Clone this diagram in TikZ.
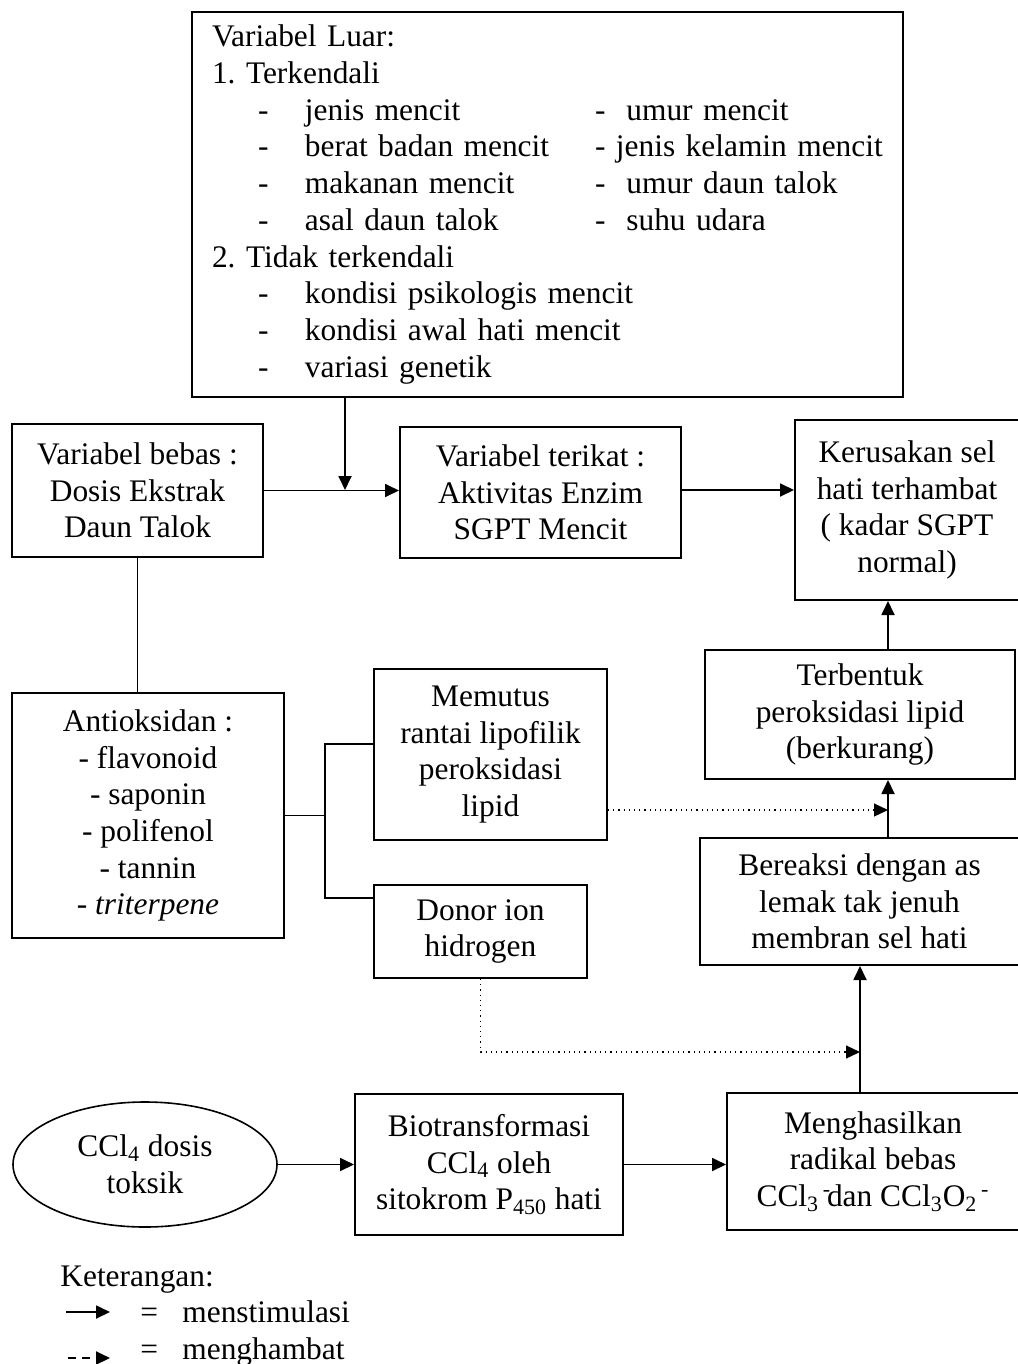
\documentclass[tikz,border=0pt]{standalone}
\usepackage{fontspec}
\setmainfont{Liberation Serif}
\usetikzlibrary{arrows.meta,positioning,shapes.geometric,calc}
\frenchspacing

% one row of the outside-variable list
\newcommand{\luarrow}[2]{\makebox[46.5pt][l]{\hspace{23pt}-}\makebox[145pt][l]{#1}#2}

\begin{document}
\begin{tikzpicture}[
  x=0.5pt, y=-0.5pt,
  font=\fontsize{15.7}{18.35}\selectfont,
  box/.style={
    draw,
    line width=1pt,
    align=center,
    inner sep=0pt
  },
  oval/.style={
    draw,
    ellipse,
    line width=0.8pt,
    align=center,
    inner sep=0pt
  },
  stimarrow/.style={
    -{Triangle[length=7pt,width=6.5pt]},
    line width=0.9pt
  },
  inhibarrow/.style={
    -{Triangle[length=7pt,width=6.5pt]},
    line width=0.6pt,
    dotted
  },
  plainline/.style={
    line width=0.8pt
  },
  legtext/.style={
    anchor=base west,
    inner sep=0pt
  }
]
\useasboundingbox (0,0) rectangle (1017,1364);

% Outside variables
\node[box, minimum width=355.5pt, minimum height=192.5pt,
      text width=335.5pt, align=left] (luar) at (547.5,204.5) {
  Variabel Luar:\\
  1. Terkendali\\
  \luarrow{jenis mencit}{-\ \ umur mencit}\\
  \luarrow{berat badan mencit}{- jenis kelamin mencit}\\
  \luarrow{makanan mencit}{-\ \ umur daun talok}\\
  \luarrow{asal daun talok}{-\ \ suhu udara}\\
  2. Tidak terkendali\\
  \luarrow{kondisi psikologis mencit}{}\\
  \luarrow{kondisi awal hati mencit}{}\\
  \luarrow{variasi genetik}{}
};

% Main row
\node[box, minimum width=125.5pt, minimum height=66.5pt] (bebas) at (137.5,490.5) {
  Variabel bebas :\\ Dosis Ekstrak\\ Daun Talok};
\node[box, minimum width=140.5pt, minimum height=65.5pt] (terikat) at (540.5,492.5) {
  Variabel terikat :\\ Aktivitas Enzim\\ SGPT Mencit};
\node[box, minimum width=112pt, minimum height=90pt] (rusak) at (907,510) {
  Kerusakan sel\\ hati terhambat\\ ( kadar SGPT\\ normal)};

% Antioxidant side
\node[box, minimum width=136pt, minimum height=122.5pt] (antioks) at (148,815.5) {
  Antioksidan :\\ - flavonoid\\ - saponin\\ - polifenol\\ - tannin\\ - \textit{triterpene}};
\node[box, minimum width=116.5pt, minimum height=85.5pt] (memutus) at (490.5,754.5) {
  Memutus\\ rantai lipofilik\\ peroksidasi\\ lipid};
\node[box, minimum width=106.5pt, minimum height=46.5pt] (donor) at (480.5,931.5) {
  Donor ion\\ hidrogen};

% Damage chain
\node[box, minimum width=155pt, minimum height=64.5pt] (terbentuk) at (860,714.5) {
  Terbentuk\\ peroksidasi lipid\\ (berkurang)};
\node[box, minimum width=159.5pt, minimum height=63.5pt] (bereaksi) at (859.5,901.5) {
  Bereaksi dengan as\\ lemak tak jenuh\\ membran sel hati};
\node[oval, minimum width=132pt, minimum height=62.5pt] (toksik) at (145,1164.5) {
  CCl\textsubscript{4} dosis\\ toksik};
\node[box, minimum width=134pt, minimum height=70.5pt] (biotrans) at (489,1164.5) {
  Biotransformasi\\ CCl\textsubscript{4} oleh\\ sitokrom P\textsubscript{450} hati};
\node[box, minimum width=146pt, minimum height=68.5pt] (radikal) at (873,1161.5) {
  Menghasilkan\\ radikal bebas\\
  CCl\textsubscript{3}\rlap{\textsuperscript{\,-}} dan CCl\textsubscript{3}O\textsubscript{2}\textsuperscript{\,-}};

% Junction points
\coordinate (join) at (345,490);
\coordinate (forkA) at (325,744);
\coordinate (forkB) at (325,898);
\coordinate (hitA) at (888,810);
\coordinate (hitB) at (860,1052);

% Stimulating arrows
\draw[stimarrow] (luar.south -| join) -- (join);
\draw[stimarrow] (bebas.east) -- (bebas.east -| terikat.west);
\draw[stimarrow] (terikat.east |- join) -- (join -| rusak.west);
\draw[stimarrow] (terbentuk.north -| hitA) -- (rusak.south -| hitA);
\draw[stimarrow] (bereaksi.north -| hitA) -- (terbentuk.south -| hitA);
\draw[stimarrow] (radikal.north -| hitB) -- (bereaksi.south -| hitB);
\draw[stimarrow] (toksik.east) -- (toksik.east -| biotrans.west);
\draw[stimarrow] (biotrans.east |- toksik.east) -- (toksik.east -| radikal.west);

% Plain links
\draw[plainline] (bebas.south) -- (bebas.south |- antioks.north);
\draw[plainline] (antioks.east) -- (antioks.east -| forkA);
\draw[plainline] (memutus.west |- forkA) -- (forkA) -- (forkB) -- (donor.west |- forkB);

% Inhibiting arrows
\draw[inhibarrow] (memutus.east |- hitA) -- (hitA);
\draw[inhibarrow] (donor.south) |- (hitB);

% Legend
\node[legtext] (ket) at (60,1286) {Keterangan:};
\node[legtext] (eqA) at (140,1322) {=};
\node[legtext] (stimtxt) at (182,1322) {menstimulasi};
\node[legtext] (eqB) at (140,1359) {=};
\node[legtext] (inhibtxt) at (182,1359) {menghambat};
\coordinate (legA) at (66,1312);
\coordinate (legB) at (110,1312);
\coordinate (legC) at (68,1358);
\coordinate (legD) at (110,1358);
\draw[stimarrow] (legA) -- (legB);
\draw[-{Triangle[length=7pt,width=6.5pt]}, line width=1pt, dash pattern=on 4pt off 3pt] (legC) -- (legD);

\end{tikzpicture}
\end{document}
